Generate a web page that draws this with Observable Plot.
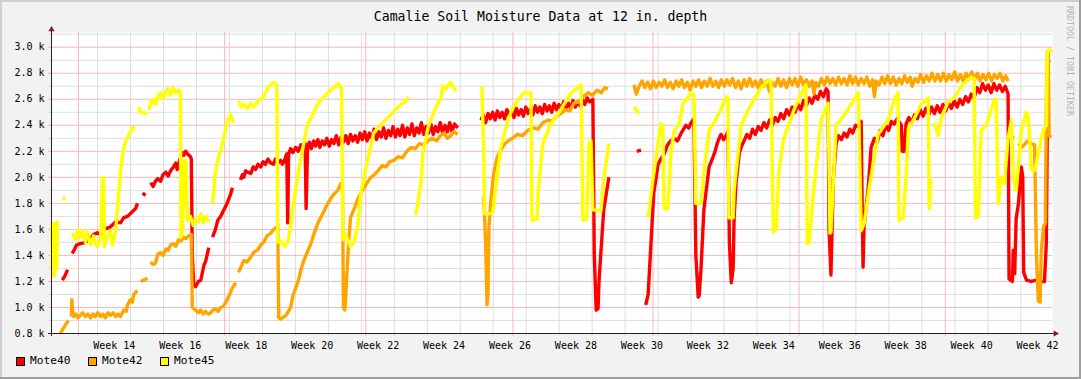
<!DOCTYPE html>
<html><head><meta charset="utf-8">
<script src="https://cdn.jsdelivr.net/npm/d3@7"></script>
<script src="https://cdn.jsdelivr.net/npm/@observablehq/plot@0.6"></script>
<style>
html,body{margin:0;padding:0;background:#f2f2f2;}
#wrap{position:relative;width:1081px;height:379px;background:#f2f2f2;overflow:hidden;font-family:"DejaVu Sans Mono",monospace;color:#000;}
.edge{position:absolute;}
#title{position:absolute;left:0;top:9px;width:1081px;text-align:center;font-size:13.2px;line-height:16px;white-space:pre;}
#plot{position:absolute;left:0;top:0;}
.lg{position:absolute;top:354px;font-size:11.2px;line-height:14px;white-space:pre;}
.sw{position:absolute;top:357px;width:9px;height:9px;box-sizing:border-box;border:1px solid #000;}
#wm{position:absolute;left:1065px;top:6px;writing-mode:vertical-rl;font-size:8.3px;line-height:10px;color:#b4b4b4;white-space:pre;}
</style>
</head><body>
<div id="wrap">
  <div class="edge" style="left:0;top:0;width:1081px;height:2px;background:#cfcfcf"></div>
  <div class="edge" style="left:0;top:0;width:2px;height:379px;background:#cfcfcf"></div>
  <div class="edge" style="left:0;top:377px;width:1081px;height:2px;background:#9e9e9e"></div>
  <div class="edge" style="left:1079px;top:0;width:2px;height:379px;background:#9e9e9e"></div>
  <div id="title"></div>
  <div id="plot"></div>
  <div id="legend"></div>
  <div id="wm"></div>
</div>
<script>
// ---- text ----
const titleText = "Camalie Soil Moisture Data at 12 in. depth";
const watermark = "RRDTOOL / TOBI OETIKER";
const seriesNames = ["Mote40", "Mote42", "Mote45"];
const seriesColors = ["#ff0000", "#ffa500", "#ffff00"];

// ---- axes (x in days from the left edge of the graph) ----
const xDomain = [0, 211.9];
const yDomain = [800, 3113];
const yMajor = [800, 1000, 1200, 1400, 1600, 1800, 2000, 2200, 2400, 2600, 2800, 3000];
const yMinor = [900, 1100, 1300, 1500, 1700, 1900, 2100, 2300, 2500, 2700, 2900, 3100];
const weekLabels = ["Week 14","Week 16","Week 18","Week 20","Week 22","Week 24","Week 26","Week 28","Week 30","Week 32","Week 34","Week 36","Week 38","Week 40","Week 42"];
const weekLabelDays = [13.3, 27.26, 41.22, 55.18, 69.14, 83.1, 97.06, 111.02, 124.98, 138.94, 152.9, 166.86, 180.82, 194.78, 208.74];
const weekGrid = [9.75,16.73,23.71,30.69,37.67,44.65,51.63,58.61,65.59,72.57,79.55,86.53,93.51,100.49,107.47,114.45,121.43,128.41,135.39,142.37,149.35,156.33,163.31,170.29,177.27,184.25,191.23,198.21,205.19];
const monthGrid = [5.72, 36.65, 66.53, 97.67, 127.33, 158.26, 189.19];

// ---- series: [day, value], null = no data ----
const mote40 = [
 [2.3,1210],[2.8,1240],[3.4,1290],[3.6,null],
 [4.4,1415],[4.9,1450],[5.3,1480],[6.1,1490],[7.2,1500],[8.3,1530],[8.9,1560],[9.7,1575],[10.4,1560],[11.2,1600],[12.5,1620],[13.6,1660],[14.6,1650],[15.3,1690],[16.1,1700],[17.2,1740],[17.8,1760],[18.2,1800],[18.4,null],
 [19.3,1880],[19.9,1860],[20.1,null],
 [21.0,1960],[21.5,1930],[22.0,1970],[22.5,1990],[23.1,1970],[23.6,2020],[24.2,2040],[24.7,2010],[25.2,2050],[25.8,2080],[26.3,2110],[26.6,2060],[26.9,2100],[27.3,2150],[27.7,2190],[28.0,2170],[28.4,2200],[28.8,2180],[29.4,2160],[29.6,2140],[29.8,1400],[30.1,1180],[30.5,1160],[31.1,1200],[31.6,1210],[32.3,1330],[32.6,1350],[33.3,1460],[33.5,null],
 [34.1,1540],[34.7,1600],[35.2,1670],[35.8,1700],[36.9,1780],[37.3,1810],[37.9,1870],[38.3,1920],[38.6,null],
 [40.0,1980],[40.4,2020],[40.7,2000],[41.1,2050],[41.5,2040],[42.2,2030],[42.7,2080],[43.2,2060],[43.7,2100],[44.3,2080],[44.8,2120],[45.3,2100],[45.8,2140],[46.4,2110],[47.0,2100],[47.4,2140],[47.9,2110],[48.5,2130],[48.9,2100],[49.4,2140],[49.8,2180],[50.0,1650],[50.2,2180],[50.6,2220],[51.1,2190],[51.7,2230],[52.2,2200],[52.8,2250],[53.4,2220],[53.7,2260],[53.9,1760],[54.2,2230],
 [54.6,2270],[55.0,2220],[55.5,2280],[55.9,2240],[56.4,2290],[56.8,2230],[57.3,2280],[57.8,2250],[58.3,2300],[58.8,2240],[59.3,2290],[59.8,2260],[60.3,2320],[60.8,2250],[61.3,2310],[61.8,2270],[62.3,2320],[62.8,2260],[63.3,2330],[63.8,2280],[64.3,2320],[64.8,2270],[65.3,2340],[65.8,2290],[66.3,2350],[66.8,2280],[67.3,2340],[67.8,2300],[68.3,2370],[68.8,2290],[69.3,2350],[69.8,2310],[70.3,2380],[70.8,2300],[71.3,2360],[71.8,2320],[72.3,2390],[72.8,2310],[73.3,2370],[73.8,2320],[74.3,2400],[74.8,2310],[75.3,2380],[75.8,2330],[76.3,2410],[76.8,2320],[77.3,2380],[77.8,2340],[78.3,2420],[78.8,2330],[79.3,2390],[79.8,2340],[80.3,2410],[80.8,2330],[81.3,2390],[81.8,2350],[82.3,2420],[82.8,2340],[83.3,2400],[83.8,2350],[84.3,2420],[84.8,2350],[85.3,2410],[86.0,2380],[86.2,null],
 [90.9,2440],[91.4,2480],[91.9,2420],[92.4,2490],[92.9,2450],[93.4,2500],[93.9,2440],[94.4,2510],[94.9,2460],[95.4,2500],[95.9,2450],[96.4,2520],[96.9,2470],[97.4,2510],[97.9,2460],[98.4,2530],[98.9,2480],[99.4,2520],[99.9,2470],[100.4,2540],[100.9,2490],[101.4,2530],[101.9,2480],[102.4,2550],[102.9,2500],[103.4,2540],[103.9,2490],[104.4,2560],[104.9,2510],[105.4,2550],[105.9,2500],[106.4,2570],[106.9,2520],[107.4,2560],[107.9,2520],[108.4,2580],[108.9,2530],[109.4,2570],[109.9,2530],[110.4,2590],[110.9,2540],[111.4,2580],[111.9,2550],[112.4,2600],[112.9,2560],[113.4,2610],[113.9,2580],[114.6,2600],[114.9,1400],[115.3,980],[115.7,990],[115.9,1200],[116.9,1750],[118.0,2000],[118.2,null],
 [123.9,2200],[124.8,2210],[125.0,null],
 [125.8,1020],[126.3,1100],[126.9,1490],[127.5,1880],[128.4,2100],[129.0,2140],[129.7,2180],[130.4,2250],[131.1,2280],[131.8,2300],[132.5,2280],[133.3,2340],[133.8,2370],[134.3,2400],[134.9,2380],[135.4,2420],[136.0,2450],[136.4,1400],[136.9,1080],[137.1,1090],[137.5,1300],[138.1,1750],[139.2,2080],[140.3,2180],[141.0,2270],[141.7,2330],[142.3,2290],[142.8,2320],[143.2,2350],[143.5,1500],[143.9,1190],[144.3,1300],[144.5,1690],[144.9,1950],[145.6,2190],[146.1,2240],
 [146.6,2280],[147.2,2330],[147.8,2300],[148.4,2370],[149.0,2330],[149.6,2390],[150.2,2360],[150.8,2420],[151.4,2380],[152.0,2440],[152.6,2400],[153.2,2460],[153.8,2430],[154.4,2490],[155.0,2450],[155.6,2520],[156.2,2480],[156.8,2540],[157.4,2500],[158.0,2560],[158.6,2520],[159.2,2590],[159.8,2550],[160.4,2610],[161.0,2570],[161.6,2630],[162.2,2600],[162.8,2660],[163.4,2620],[164.0,2680],[164.4,2660],[164.6,1600],[165.0,1250],[165.5,1980],[166.1,2260],[166.6,2320],[167.2,2290],[167.8,2340],[168.4,2310],[169.0,2370],[169.6,2340],[170.2,2400],[170.8,2390],[171.4,2430],[171.6,1800],[171.8,1310],[172.0,1620],[172.9,1920],
 [173.5,2230],[174.2,2300],[174.8,2270],[175.4,2360],[176.0,2320],[176.6,2400],[177.2,2360],[177.8,2430],[178.4,2410],[179.0,2450],[179.9,2400],[180.1,2200],[180.5,2200],[180.9,2410],[181.5,2460],[182.1,2420],[182.7,2480],[183.3,2450],[183.9,2520],[184.5,2470],[185.1,2530],[185.7,2480],[186.3,2540],[186.9,2490],[187.5,2550],[188.1,2500],[188.7,2560],[189.3,2510],[189.9,2570],[190.5,2530],[191.1,2590],[191.7,2540],[192.3,2600],[192.9,2560],[193.5,2620],[194.1,2580],[194.7,2640],[195.3,2610],[195.9,2690],[196.5,2650],[197.1,2720],[197.7,2670],[198.3,2710],[198.9,2650],[199.5,2720],[200.1,2670],[200.7,2710],[201.3,2660],[201.9,2700],[202.5,2640],
 [202.7,1220],[203.4,1200],[203.6,1440],[203.9,1260],[204.2,1680],[204.7,1800],[205.3,2080],[205.6,2000],[205.8,1270],[206.4,1210],[207.4,1200],[208.5,1210],[209.5,1200],[210.2,1200],[210.6,1500],[210.8,2400],[211.0,2880],[211.2,2900]
];
const mote42 = [
 [1.9,800],[2.5,840],[3.0,870],[3.6,900],[3.8,null],
 [4.2,930],[4.3,1060],[4.5,960],[4.7,930],[5.1,950],[5.6,920],[6.1,940],[6.6,960],[7.2,930],[7.7,950],[8.3,920],[8.8,950],[9.3,930],[9.8,960],[10.4,930],[10.9,950],[11.4,920],[12.0,960],[12.5,940],[13.1,960],[13.6,930],[14.1,950],[14.6,930],[15.3,980],[15.8,970],[16.1,1020],[16.7,1060],[17.1,1040],[17.4,1100],[18.2,1130],[18.4,null],
 [18.9,1200],[19.5,1210],[20.3,1225],[20.5,null],
 [21.0,1350],[21.5,1330],[22.0,1340],[22.5,1410],[23.1,1420],[23.6,1400],[24.2,1450],[24.7,1440],[25.2,1480],[25.8,1490],[26.3,1470],[26.9,1520],[27.4,1510],[28.0,1540],[28.5,1530],[29.0,1550],[29.6,1560],[29.8,1000],[30.5,980],[31.1,960],[31.6,980],[32.1,950],[32.6,970],[33.2,950],[33.7,960],[34.2,980],[34.7,990],[35.3,970],[35.8,1000],[36.4,1010],[36.9,1040],[37.6,1090],[38.3,1150],[39.0,1190],[39.2,null],
 [39.6,1270],[40.7,1360],[41.4,1350],[42.2,1390],[43.0,1430],[43.6,1440],[44.3,1480],[44.9,1500],[45.6,1550],[46.4,1570],[47.0,1600],[47.5,1610],[47.9,1630],[48.1,920],[48.5,910],[49.6,940],[50.0,960],[50.6,1000],[51.2,1100],[51.7,1150],[52.3,1210],[52.8,1290],[53.4,1360],[54.1,1420],[54.9,1490],[55.6,1570],[56.4,1650],[57.4,1720],[58.5,1800],[59.5,1860],[60.6,1900],[61.2,1950],[61.6,1930],[61.8,1000],[62.1,980],[62.3,1100],[62.9,1500],[63.3,1690],[64.1,1760],[64.8,1830],[65.5,1880],[66.5,1940],[67.6,2000],[68.3,2020],[69.1,2050],[70.0,2090],[70.8,2080],[71.6,2120],[72.5,2130],[73.4,2160],[74.3,2150],[75.2,2200],[76.1,2230],[77.0,2220],[77.9,2260],[78.8,2250],[79.7,2280],[80.6,2300],[81.5,2280],[82.3,2320],[83.1,2340],[83.8,2300],[84.5,2320],[85.1,2350],[85.6,2340],[86.0,2330],[86.2,null],
 [91.5,1850],[91.9,1500],[92.2,1020],[92.4,1100],[92.6,1620],[93.0,1820],[93.6,2030],[94.3,2150],[95.1,2210],[95.8,2250],[96.6,2280],[97.6,2300],[98.6,2330],[99.7,2320],[100.8,2360],[101.9,2380],[103.0,2370],[104.0,2420],[105.1,2440],[106.0,2430],[106.9,2470],[107.8,2490],[108.8,2520],[109.7,2510],[110.6,2570],[111.6,2580],[112.6,2620],[113.6,2650],[114.5,2630],[115.5,2670],[116.4,2650],[117.1,2690],[117.8,2680],[118.1,null],
 [123.3,2710],[123.8,2640],[124.4,2700],[125.0,2740],[125.6,2690],[126.2,2730],[126.8,2680],[127.4,2740],[128.0,2690],[128.6,2730],[129.2,2700],[129.8,2750],[130.4,2690],[131.0,2730],[131.6,2680],[132.2,2740],[132.8,2700],[133.4,2750],[134.0,2690],[134.6,2730],[135.2,2670],[135.8,2740],[136.4,2700],[137.0,2750],[137.6,2690],[138.2,2740],[138.8,2700],[139.4,2760],[140.0,2700],[140.6,2740],[141.2,2690],[141.8,2750],[142.4,2700],[143.0,2750],[143.6,2710],[144.2,2760],[144.8,2690],[145.4,2740],[146.0,2680],[146.6,2750],[147.2,2700],[147.8,2760],[148.4,2700],[149.0,2740],[149.6,2690],[150.2,2750],[150.8,2700],[151.4,2740],[152.0,2660],[152.6,2730],[153.2,2700],[153.8,2760],[154.4,2700],[155.0,2750],[155.6,2690],[156.2,2760],[156.8,2710],[157.4,2760],[158.0,2700],[158.6,2770],[159.2,2710],[159.8,2750],[160.4,2700],[161.0,2740],[161.4,2640],[161.8,2730],[162.4,2700],[163.0,2760],[163.6,2710],[164.2,2770],[164.8,2720],[165.4,2760],[166.0,2710],[166.6,2770],[167.2,2720],[167.8,2760],[168.4,2710],[169.0,2780],[169.6,2720],[170.2,2770],[170.8,2710],[171.4,2760],[172.0,2720],[172.6,2770],[173.2,2700],[173.8,2750],[174.2,2620],[174.6,2740],[175.2,2710],[175.8,2770],[176.4,2720],[177.0,2780],[177.6,2720],[178.2,2770],[178.8,2710],[179.4,2760],[180.0,2720],[180.6,2780],[181.2,2730],[181.8,2770],[182.2,2700],[182.8,2760],[183.4,2730],[184.0,2790],[184.6,2730],[185.2,2780],[185.8,2740],[186.4,2800],[187.0,2740],[187.6,2790],[188.2,2740],[188.8,2800],[189.4,2740],[190.0,2790],[190.6,2750],[191.2,2810],[191.8,2740],[192.4,2790],[193.0,2740],[193.6,2800],[194.2,2750],[194.8,2810],[195.4,2750],[196.0,2800],[196.6,2740],[197.2,2790],[197.8,2750],[198.4,2800],[199.0,2740],[199.6,2790],[200.2,2760],[200.8,2800],[201.4,2740],[202.0,2780],[202.5,2740],[202.7,null],
 [203.2,2310],[203.8,2300],[204.2,null],
 [204.7,2260],[205.3,2230],[205.9,2250],[206.6,2280],[207.4,2260],[208.1,2250],[208.5,1400],[208.9,1050],[209.3,1040],[209.5,1420],[210.0,1620],[210.4,1650],[210.6,2600],[210.8,2950],[211.0,2960],[211.2,2320],[211.7,2310]
];
const mote45 = [
 [0.0,1640],[0.2,1250],[0.4,1640],[0.6,1240],[0.8,1650],[1.1,1300],[1.3,1660],[1.5,1660],[1.6,null],
 [2.3,1835],[3.0,1835],[3.1,null],
 [4.4,1570],[5.1,1520],[5.6,1600],[6.1,1540],[6.6,1590],[7.2,1500],[7.6,1580],[8.3,1480],[8.9,1550],[9.3,1500],[9.7,1470],[10.4,1530],[10.8,2000],[11.0,2000],[11.2,1470],[11.4,1500],[12.0,1560],[12.5,1590],[12.9,1480],[13.6,1590],[14.6,2050],[15.3,2230],[16.1,2310],[17.2,2380],[17.8,2380],[18.0,null],
 [18.4,2540],[18.9,2500],[20.3,2490],[20.5,null],
 [20.6,2520],[21.1,2580],[21.5,2600],[22.0,2560],[22.5,2620],[23.1,2650],[23.6,2600],[24.2,2660],[24.6,2680],[25.2,2630],[25.7,2690],[26.3,2650],[26.9,2670],[27.3,2650],[27.4,1540],[27.8,1600],[28.0,2130],[28.4,2130],[28.8,1670],[29.4,1700],[30.0,1630],[30.5,1680],[31.1,1660],[31.6,1720],[32.1,1650],[32.6,1700],[33.3,1660],[33.5,null],
 [34.1,1800],[34.7,2050],[35.5,2170],[36.2,2260],[37.3,2440],[37.9,2480],[38.6,2420],[38.8,null],
 [39.6,2590],[40.2,2540],[40.7,2560],[41.5,2530],[42.2,2570],[42.8,2540],[43.8,2590],[44.9,2620],[45.8,2690],[46.4,2710],[47.0,2730],[47.7,2710],[47.9,1500],[48.5,1510],[49.4,1470],[50.2,1520],[51.3,1820],[52.3,2050],[53.4,2260],[54.2,2410],[55.3,2480],[56.4,2570],[57.5,2610],[58.5,2650],[59.7,2690],[60.8,2720],[61.4,2680],[61.7,1520],[62.3,1560],[63.3,1470],[64.0,1500],[64.8,1620],[65.5,1880],[66.9,2130],[68.2,2340],[69.1,2380],[70.4,2430],[71.8,2480],[72.8,2520],[73.9,2560],[74.8,2580],[75.6,2620],[75.8,null],
 [77.1,1710],[78.2,1950],[78.6,2180],[79.7,2380],[80.7,2480],[81.8,2570],[82.4,2600],[82.8,2700],[83.5,2680],[84.0,2710],[84.5,2730],[85.1,2690],[85.6,2660],[85.8,null],
 [91.1,2700],[91.5,2200],[91.7,1720],[92.6,1720],[93.4,1730],[95.1,2230],[96.6,2440],[97.6,2530],[98.7,2590],[100.0,2650],[101.5,2650],[101.7,1670],[102.8,1680],[103.0,1880],[104.0,2260],[105.7,2410],[107.8,2520],[110.0,2650],[111.4,2690],[112.1,2710],[112.5,1670],[113.3,1680],[113.8,2260],[114.2,2280],[114.6,1750],[116.3,1740],[116.9,1980],[118.0,2260],[118.2,null],
 [123.3,2540],[124.4,2490],[124.6,null],
 [126.3,1690],[127.3,1980],[128.4,2260],[129.0,2410],[129.4,2400],[129.7,1760],[130.5,1760],[131.1,2180],[131.8,2360],[132.8,2400],[133.7,2570],[134.5,2600],[135.4,2650],[136.0,2630],[136.4,1800],[137.5,1800],[138.1,2050],[139.2,2360],[140.7,2450],[141.7,2520],[142.8,2620],[143.2,2600],[143.4,1690],[144.3,1690],[144.5,1900],[146.0,2400],[147.5,2520],[148.9,2610],[150.2,2690],[151.1,2720],[151.9,2750],[152.3,2740],[152.8,1580],[153.4,1600],[154.0,2050],[154.9,2280],[155.9,2390],[157.2,2520],[158.5,2630],[159.7,2710],[160.0,1490],[160.4,1500],[161.4,1920],[162.3,2230],[162.9,2440],[164.4,2570],[164.8,1570],[165.0,1580],[166.1,2400],[167.4,2460],[168.6,2520],[169.9,2600],[170.8,2650],[171.4,1590],[172.0,1640],[173.1,1920],[175.0,2330],[177.1,2440],[178.4,2600],[179.2,2650],[179.4,1670],[180.3,1690],[180.9,2000],[181.4,2380],[182.6,2450],[184.1,2560],[185.6,2610],[185.8,1760],[186.2,1980],[186.4,null],
 [186.9,2420],[187.7,2320],[188.3,2450],[189.8,2580],[191.1,2610],[192.6,2700],[193.7,2740],[194.7,2770],[195.3,2760],[195.6,1690],[196.2,1700],[196.8,2360],[197.9,2400],[199.6,2600],[200.0,2590],[200.4,1800],[201.1,2000],[201.7,1950],[202.5,2300],[203.2,2440],[203.6,2000],[204.2,1900],[204.7,2100],[205.3,2360],[206.4,2500],[206.8,2460],[207.4,2060],[208.1,2050],[208.7,2150],[209.5,2300],[210.2,2380],[210.6,2400],[210.8,2970],[211.4,2980],[211.7,2960]
];

// ---- build ----
const seriesData = [mote40, mote42, mote45];
const rows = [];
seriesData.forEach((arr, i) => arr.forEach(([day, value]) => rows.push({name: seriesNames[i], day, value})));

const labelByDay = new Map(weekLabelDays.map((d, i) => [d, weekLabels[i]]));
const gridGray = "#dedede";
const gridRed = "#f3b9b9";

const chart = Plot.plot({
  width: 1081, height: 379,
  marginLeft: 51, marginRight: 29, marginTop: 32, marginBottom: 46,
  style: {background: "none", fontFamily: "'DejaVu Sans Mono', monospace", fontSize: "10px", color: "#000", overflow: "visible"},
  x: {domain: xDomain, axis: null},
  y: {domain: yDomain, axis: null},
  color: {domain: seriesNames, range: seriesColors},
  marks: [
    Plot.frame({fill: "#ffffff", stroke: "none"}),
    Plot.ruleY(yMinor, {stroke: gridGray}),
    Plot.ruleX(weekGrid, {stroke: gridGray}),
    Plot.ruleY(yMajor, {stroke: gridRed}),
    Plot.ruleX(monthGrid, {stroke: gridRed}),
    Plot.axisY({ticks: yMinor, tickSize: 3, tickFormat: () => "", stroke: gridGray}),
    Plot.axisY({ticks: yMajor, tickSize: 3, tickPadding: 4, tickFormat: d => (d / 1000).toFixed(1) + " k", stroke: gridRed, fill: "#000", fontSize: 10}),
    Plot.axisX({ticks: weekGrid, tickSize: 3, tickFormat: () => "", stroke: gridGray}),
    Plot.axisX({ticks: monthGrid, tickSize: 3, tickFormat: () => "", stroke: gridRed}),
    Plot.axisX({ticks: weekLabelDays, tickSize: 0, tickPadding: 8, tickFormat: d => labelByDay.get(d), fill: "#000", fontSize: 10}),
    Plot.line(rows, {x: "day", y: "value", z: "name", stroke: "name", strokeWidth: 3.4, strokeLinejoin: "round", strokeLinecap: "butt"}),
    Plot.ruleX([xDomain[0]], {stroke: "#202020", insetTop: -2, insetBottom: -3}),
    Plot.ruleY([yDomain[0]], {stroke: "#202020", insetLeft: -3, insetRight: -2}),
    Plot.dot([{x: xDomain[0], y: yDomain[1]}], {x: "x", y: "y", symbol: "triangle", r: 2.3, fill: "#7f1f1f", stroke: "none", dy: -3}),
    Plot.dot([{x: xDomain[1], y: yDomain[0]}], {x: "x", y: "y", symbol: "triangle", r: 2.3, fill: "#7f1f1f", stroke: "none", dx: 3, rotate: 90})
  ]
});
document.getElementById("plot").appendChild(chart);

document.getElementById("title").textContent = titleText;
document.getElementById("wm").textContent = watermark;
const legend = document.getElementById("legend");
const legendX = [16, 88, 160];
seriesNames.forEach((n, i) => {
  const sw = document.createElement("div");
  sw.className = "sw"; sw.style.left = legendX[i] + "px"; sw.style.background = seriesColors[i];
  legend.appendChild(sw);
  const t = document.createElement("div");
  t.className = "lg"; t.style.left = (legendX[i] + 14) + "px"; t.textContent = n;
  legend.appendChild(t);
});
</script>
</body></html>
